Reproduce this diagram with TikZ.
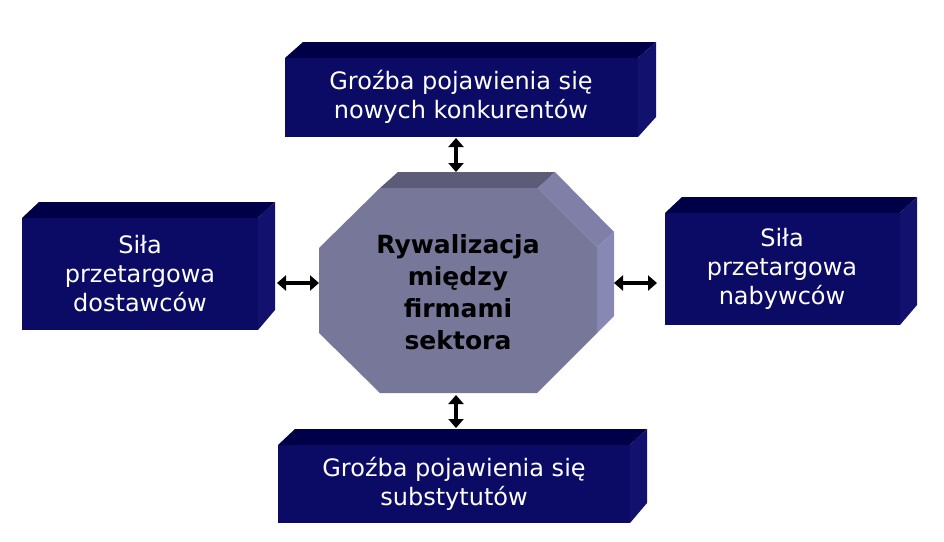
\documentclass[tikz,border=0pt]{standalone}
\usepackage{fontspec}
\setmainfont{DejaVu Sans}
\usetikzlibrary{arrows.meta}
\definecolor{navF}{HTML}{0B0B66}
\definecolor{navT}{HTML}{000048}
\definecolor{navS}{HTML}{12126E}
\definecolor{octF}{HTML}{77779A}
\definecolor{octT}{HTML}{5C5C78}
\definecolor{octR}{HTML}{7F7FA8}
\definecolor{octS}{HTML}{8888B4}
\tikzset{
  lbl/.style={text=white,font=\fontsize{24}{29}\selectfont,align=center},
  dbl/.style={line width=4.5pt,{Triangle[length=9pt,width=15pt]}-{Triangle[length=9pt,width=15pt]}},
}
\newcommand{\bbox}[5]{% x1 y1 x2 y2 depth
  \fill[navT] (#1,#2) -- (#1+#5,#2-16) -- (#3+#5,#2-16) -- (#3,#2) -- cycle;
  \fill[navS] (#3,#2) -- (#3+#5,#2-16) -- (#3+#5,#4-20) -- (#3,#4) -- cycle;
  \fill[navF] (#1,#2) rectangle (#3,#4);
}
\begin{document}
\begin{tikzpicture}[x=1pt,y=-1pt]
\useasboundingbox (0,0) rectangle (944,541);
\fill[white] (0,0) rectangle (944,541);
\bbox{285}{58}{638}{137}{18}
\bbox{22}{218}{258}{330}{17}
\bbox{665}{213}{900}{325}{17}
\bbox{278}{445}{630}{523}{17}
% octagon
\fill[octT] (380,188) -- (398,172) -- (555,172) -- (538,188) -- cycle;
\fill[octR] (538,188) -- (555,172) -- (614,232) -- (597,247) -- cycle;
\fill[octS] (597,247) -- (614,232) -- (614,316) -- (597,333) -- cycle;
\fill[octF] (319,248) -- (380,188) -- (538,188) -- (597,247) -- (597,333) -- (537,393) -- (380,393) -- (319,333) -- cycle;
\node[lbl] (top) at (461,97) {Groźba pojawienia się\\nowych konkurentów};
\node[lbl] (left) at (140,274) {Siła\\przetargowa\\dostawców};
\node[lbl] (right) at (782,269) {Siła\\przetargowa\\nabywców};
\node[lbl] (bot) at (454,484) {Groźba pojawienia się\\substytutów};
\node[font=\bfseries\fontsize{25}{32}\selectfont,align=center] (mid) at (458,292) {Rywalizacja\\między\\firmami\\ sektora};
\coordinate (oT) at (456,172); \coordinate (oB) at (456,395);
\coordinate (oL) at (319,283); \coordinate (oR) at (614,283);
\coordinate (tB) at (456,138); \coordinate (bT) at (456,428);
\coordinate (lR) at (277,283); \coordinate (rL) at (657,283);
\draw[dbl] (tB) -- (oT);
\draw[dbl] (oB) -- (bT);
\draw[dbl] (lR) -- (oL);
\draw[dbl] (oR) -- (rL);
\end{tikzpicture}
\end{document}
